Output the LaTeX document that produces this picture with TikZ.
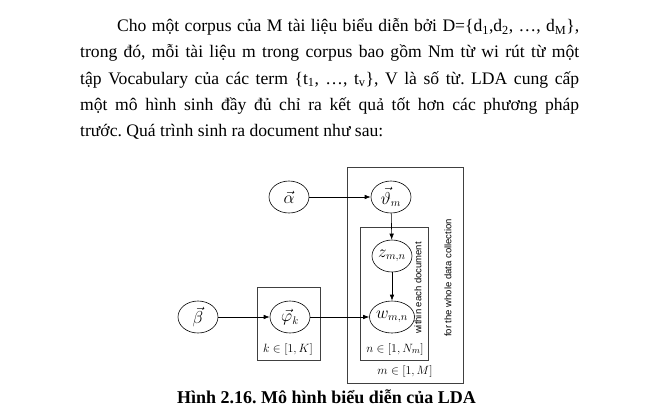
\documentclass[tikz,border=0pt]{standalone}
\usepackage{fontspec}
\setmainfont{Liberation Serif}
\setsansfont{Liberation Sans}
\usetikzlibrary{shapes.geometric,arrows.meta}
\frenchspacing
\tikzset{
  var/.style={ellipse,draw,minimum width=40pt,minimum height=32pt,inner sep=0pt,
    line width=0.6pt,font=\fontsize{16}{18}\selectfont},
  plate/.style={draw=black!75,line width=0.7pt},
  lbl/.style={inner sep=0pt,font=\fontsize{12.5}{14}\selectfont},
  note/.style={inner sep=0pt,rotate=90,font=\sffamily\fontsize{9.5}{11}\selectfont},
  textline/.style={anchor=base west,inner sep=0pt,font=\fontsize{17.6}{21}\selectfont}
}
\begin{document}
\begin{tikzpicture}[x=1pt,y=-1pt]
  \useasboundingbox (0,0) rectangle (655,413);
  % paragraph
  \node[textline] (line1) at (117,31.5) {\makebox[462pt][s]{Cho một corpus của M tài liệu biểu diễn bởi D=\{d\textsubscript{1},d\textsubscript{2}, …, d\textsubscript{M}\},}};
  \node[textline] (line2) at (80,57.8) {\makebox[499pt][s]{trong đó, mỗi tài liệu m trong corpus bao gồm Nm từ wi rút từ một}};
  \node[textline] (line3) at (80,84) {\makebox[499pt][s]{tập Vocabulary của các term \{t\textsubscript{1}, …, t\textsubscript{v}\}, V là số từ. LDA cung cấp}};
  \node[textline] (line4) at (80,110.2) {\makebox[499pt][s]{một mô hình sinh đầy đủ chỉ ra kết quả tốt hơn các phương pháp}};
  \node[textline] (line5) at (80,136.5) {trước. Quá trình sinh ra document như sau:};
  % plates
  \draw[plate] (347,167) rectangle (463,383);
  \draw[plate] (360,227) rectangle (428,360);
  \draw[plate] (257,287) rectangle (320,360);
  % variables
  \draw
    (289,197) node[var] (alpha){$\vec{\alpha}$}
    (391,197) node[var] (theta){$\vec{\vartheta}_{m}$}
    (392,256) node[var] (z){$z_{m,n}$}
    (392,317) node[var] (w){$w_{m,n}$}
    (198,317) node[var] (beta){$\vec{\beta}$}
    (290,317) node[var] (phi){$\vec{\varphi}_{k}$};
  \begin{scope}[-{Latex[length=6pt,width=4.5pt]},line width=0.6pt]
    \draw (alpha) to (theta);
    \draw (theta) to (z);
    \draw (z) to (w);
    \draw (beta) to (phi);
    \draw (phi) to (w);
  \end{scope}
  % plate labels
  \draw
    (288,349) node[lbl] (krange){$k\in[1,K]$}
    (395,349) node[lbl] (nrange){$n\in[1,N_{m}]$}
    (405,371) node[lbl] (mrange){$m\in[1,M]$};
  \node[note] (within) at (418,288) {within each document};
  \node[note] (whole) at (448,278) {for the whole data collection};
  % caption
  \node[anchor=base,inner sep=0pt,font=\bfseries\fontsize{18}{21}\selectfont] (caption)
    at (326.5,403) {Hình 2.16. Mô hình biểu diễn của LDA};
\end{tikzpicture}
\end{document}
